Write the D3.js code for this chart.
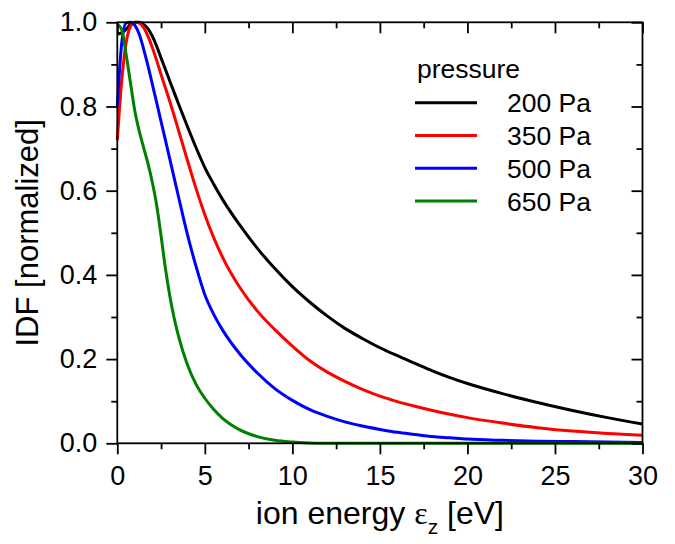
<!DOCTYPE html>
<html>
<head>
<meta charset="utf-8">
<script src="https://cdn.jsdelivr.net/npm/d3@7"></script>
<style>
    body { margin: 0; background: #fff; }
    text { font-family: "Liberation Sans", Arial, sans-serif; fill: #000; }
</style>
</head>
<body>
<div id="content"></div>
<script>
// ion energy grid [eV] and normalized IDF per pressure
const energy = [0, 0.25, 0.5, 0.75, 1, 1.25, 1.5, 1.75, 2, 2.25, 2.5, 2.75, 3, 3.25, 3.5, 4, 4.5, 5, 5.5, 6,
    7, 8, 9, 10, 11, 12, 13, 14, 15, 16, 17, 18, 19, 20, 22, 24, 26, 28, 30]
const idf200 = [0.972, 0.975, 0.983, 0.995, 1.0, 1.0, 0.995, 0.985, 0.967, 0.943, 0.915, 0.888, 0.86, 0.833, 0.806, 0.753, 0.702, 0.655, 0.616, 0.58,
    0.518, 0.463, 0.415, 0.372, 0.335, 0.302, 0.273, 0.249, 0.227, 0.208, 0.19, 0.172, 0.156, 0.142, 0.118, 0.097, 0.078, 0.061, 0.046]
const idf350 = [0.72, 0.86, 0.95, 0.99, 1.0, 0.998, 0.988, 0.967, 0.94, 0.909, 0.876, 0.844, 0.812, 0.778, 0.743, 0.673, 0.605, 0.543, 0.489, 0.443,
    0.37, 0.314, 0.27, 0.231, 0.196, 0.169, 0.147, 0.128, 0.112, 0.099, 0.088, 0.078, 0.069, 0.061, 0.048, 0.037, 0.029, 0.023, 0.019]
const idf500 = [0.80, 0.95, 0.998, 1.0, 0.993, 0.972, 0.937, 0.897, 0.853, 0.809, 0.764, 0.72, 0.675, 0.63, 0.585, 0.497, 0.42, 0.353, 0.307, 0.27,
    0.212, 0.167, 0.13, 0.102, 0.08, 0.064, 0.051, 0.041, 0.033, 0.026, 0.021, 0.016, 0.013, 0.01, 0.007, 0.005, 0.004, 0.003, 0.002]
const idf650 = [0.995, 0.983, 0.925, 0.857, 0.79, 0.742, 0.703, 0.665, 0.62, 0.565, 0.493, 0.415, 0.35, 0.297, 0.254, 0.187, 0.14, 0.107, 0.081, 0.06,
    0.032, 0.016, 0.007, 0.003, 0.001, 0, 0, 0, 0, 0, 0, 0, 0, 0, 0, 0, 0, 0, 0]

const pressures = ["200 Pa", "350 Pa", "500 Pa", "650 Pa"]
const colors = ["#000000", "#ff0000", "#0000ff", "#008000"]
const seriesValues = [idf200, idf350, idf500, idf650]

const xMajor = [0, 5, 10, 15, 20, 25, 30]
const xMinor = [2.5, 7.5, 12.5, 17.5, 22.5, 27.5]
const yMajor = [0, 0.2, 0.4, 0.6, 0.8, 1.0]
const yMinor = [0.1, 0.3, 0.5, 0.7, 0.9]

const outerWidth = 675
const outerHeight = 544
const margin = {top: 22.3, right: 675 - 642.5, bottom: 544 - 443.3, left: 117.3}
const width = outerWidth - margin.left - margin.right
const height = outerHeight - margin.top - margin.bottom

const svg = d3.select("#content").append("svg")
    .attr("width", outerWidth)
    .attr("height", outerHeight)
    .style("display", "block")

const wrapper = svg.append("g")
    .attr("transform", `translate(${margin.left}, ${margin.top})`)

// scales
const xScale = d3.scaleLinear()
    .domain([0, 30])
    .range([0, width])
const yScale = d3.scaleLinear()
    .domain([0, 1])
    .range([height, 0])

// curves
const line = d3.line()
    .x(d => xScale(d[0]))
    .y(d => yScale(d[1]))
    .curve(d3.curveMonotoneX)

seriesValues.forEach((values, i) => {
    wrapper.append("path")
        .datum(energy.map((e, j) => [e, values[j]]))
        .attr("fill", "none")
        .attr("stroke", colors[i])
        .attr("stroke-width", 3)
        .attr("stroke-linejoin", "round")
        .attr("d", line)
})

// axes: outward ticks left/bottom, inward ticks top/right
const fmtY = d3.format(".1f")
const styleAxis = g => {
    g.select(".domain").remove()
    g.selectAll("line").attr("stroke", "#000").attr("stroke-width", 1.8)
    g.selectAll("text").style("font-size", "27px").style("font-family", "Liberation Sans, Arial, sans-serif")
}

wrapper.append("g")
    .attr("transform", `translate(0, ${height})`)
    .call(d3.axisBottom(xScale).tickValues(xMajor).tickSize(11).tickPadding(11.5).tickFormat(d3.format("d")))
    .call(styleAxis)
wrapper.append("g")
    .attr("transform", `translate(0, ${height})`)
    .call(d3.axisBottom(xScale).tickValues(xMinor).tickSize(6).tickFormat(""))
    .call(styleAxis)
wrapper.append("g")
    .call(d3.axisLeft(yScale).tickValues(yMajor).tickSize(11).tickPadding(9).tickFormat(fmtY))
    .call(styleAxis)
wrapper.append("g")
    .call(d3.axisLeft(yScale).tickValues(yMinor).tickSize(6).tickFormat(""))
    .call(styleAxis)
wrapper.append("g")
    .call(d3.axisTop(xScale).tickValues(xMajor).tickSize(-11).tickFormat(""))
    .call(styleAxis)
wrapper.append("g")
    .call(d3.axisTop(xScale).tickValues(xMinor).tickSize(-6).tickFormat(""))
    .call(styleAxis)
wrapper.append("g")
    .attr("transform", `translate(${width}, 0)`)
    .call(d3.axisRight(yScale).tickValues(yMajor).tickSize(-11).tickFormat(""))
    .call(styleAxis)
wrapper.append("g")
    .attr("transform", `translate(${width}, 0)`)
    .call(d3.axisRight(yScale).tickValues(yMinor).tickSize(-6).tickFormat(""))
    .call(styleAxis)

// frame
wrapper.append("rect")
    .attr("width", width)
    .attr("height", height)
    .attr("fill", "none")
    .attr("stroke", "#000")
    .attr("stroke-width", 1.8)

// axis titles
const xTitle = svg.append("text")
    .attr("x", margin.left + width / 2)
    .attr("y", 524)
    .style("text-anchor", "middle")
    .style("font-size", "32px")
xTitle.append("tspan").text("ion energy ")
xTitle.append("tspan")
    .style("font-family", "Liberation Serif, serif")
    .text("ε")
xTitle.append("tspan")
    .attr("dy", 10)
    .style("font-size", "21px")
    .text("z")
xTitle.append("tspan")
    .attr("dy", -10)
    .text(" [eV]")

svg.append("text")
    .attr("transform", `translate(38, ${margin.top + height / 2}) rotate(-90)`)
    .style("text-anchor", "middle")
    .style("font-size", "31px")
    .text("IDF [normalized]")

// legend
const legend = svg.append("g")
    .attr("transform", "translate(415, 78)")

legend.append("text")
    .attr("x", 2)
    .attr("y", 0)
    .style("font-size", "26.5px")
    .text("pressure")

pressures.forEach((p, i) => {
    const y = 24.7 + i * 32.8
    legend.append("line")
        .attr("x1", 0)
        .attr("x2", 62)
        .attr("y1", y)
        .attr("y2", y)
        .attr("stroke", colors[i])
        .attr("stroke-width", 3)
    legend.append("text")
        .attr("x", 92)
        .attr("y", y)
        .attr("dy", "0.36em")
        .style("font-size", "26.5px")
        .text(p)
})
</script>
</body>
</html>
